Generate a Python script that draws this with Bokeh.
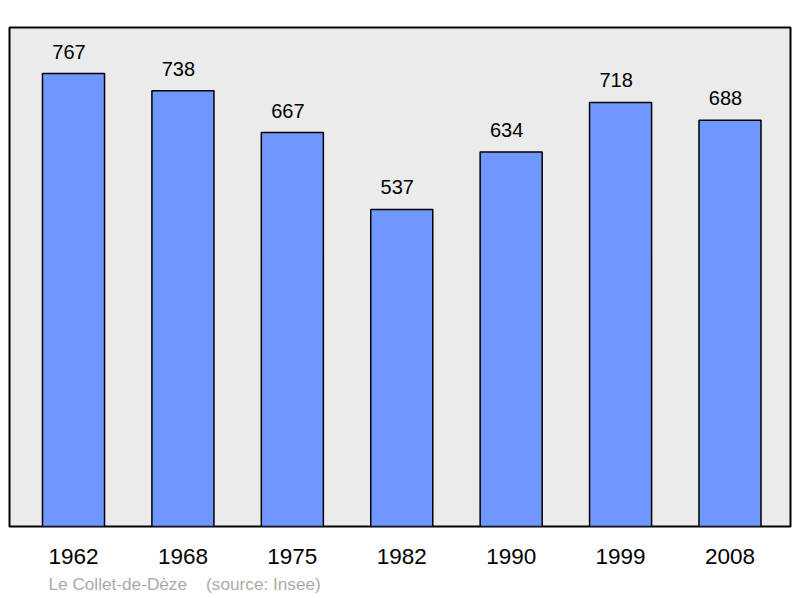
from bokeh.plotting import figure
from bokeh.models import ColumnDataSource, FixedTicker, Range1d, Title
from bokeh.core.properties import value
from bokeh.embed import file_html
from bokeh.resources import INLINE

years = ["1962", "1968", "1975", "1982", "1990", "1999", "2008"]
population = [767, 738, 667, 537, 634, 718, 688]
footer = "Le Collet-de-Dèze\u00a0\u00a0\u00a0\u00a0(source: Insee)"

xs = list(range(len(years)))
src = ColumnDataSource(dict(x=xs, top=population, label=[str(v) for v in population]))

p = figure(width=800, height=598, output_backend="svg", toolbar_location=None,
           x_range=Range1d(-0.585, 6.553), y_range=Range1d(0, 845),
           min_border_left=9, min_border_right=10, min_border_top=27, min_border_bottom=70)
p.background_fill_color = "#ebebeb"
p.border_fill_color = "white"
p.outline_line_color = "black"
p.outline_line_width = 2
p.grid.visible = False
p.yaxis.visible = False

p.vbar(x="x", top="top", bottom=0, width=0.567, source=src,
       fill_color="#7096ff", line_color="black", line_width=1.5)
p.text(x="x", y="top", text="label", source=src, text_align="center",
       text_baseline="middle", x_offset=-4.5, y_offset=-22, text_font_size="20px",
       text_font=value("Liberation Sans"), text_color="black")

xa = p.xaxis[0]
xa.ticker = FixedTicker(ticks=xs)
xa.major_label_overrides = {i: y for i, y in enumerate(years)}
xa.axis_line_color = None
xa.major_tick_line_color = None
xa.minor_tick_line_color = None
xa.major_label_text_font = "Liberation Sans"
xa.major_label_text_font_size = "22.5px"
xa.major_label_text_color = "black"
xa.major_label_standoff = 16

p.add_layout(Title(text=footer, align="left", offset=39, text_font="Liberation Sans",
                   text_font_size="17.2px", text_color="#aaaaaa", text_font_style="normal"), "below")

open("out.html", "w").write(file_html(p, INLINE))
